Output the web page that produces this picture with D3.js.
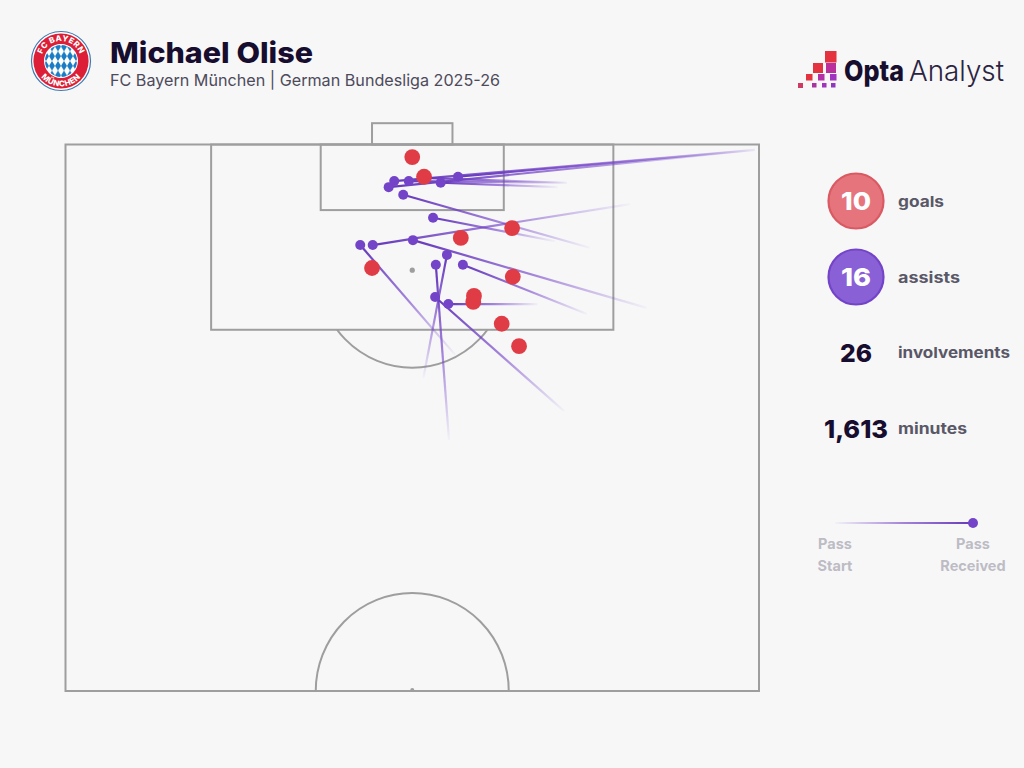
<!DOCTYPE html>
<html><head><meta charset="utf-8">
<script src="https://cdn.jsdelivr.net/npm/d3@7"></script>
<style>
html,body{margin:0;padding:0;background:#f7f7f8}
svg{display:block}
text{font-family:Inter,Roboto,sans-serif}
</style></head><body>
<svg id="c" width="1024" height="768"></svg>
<script>
// Pitch coordinates: x 0-100 across, y 0-100 from goal line to halfway line
const goalX = [50.0,51.7,64.4,57.0,44.2,64.5,58.9,58.8,62.9,65.4];
const goalY = [2.3,5.9,15.3,17.1,22.6,24.2,27.7,28.8,32.8,36.9];
const recvX = [56.6,47.4,46.6,49.5,54.1,51.7,48.7,53.0,44.3,42.5,50.1,55.0,53.4,57.3,53.3,55.2];
const recvY = [5.9,6.7,7.8,6.7,7.0,6.1,9.2,13.4,18.4,18.4,17.5,20.2,22.0,22.0,27.9,29.2];
const startX = [99.4,99.4,99.4,72.3,71.0,72.3,75.6,70.6,81.4,56.2,83.8,51.6,55.3,75.2,71.9,68.1];
const startY = [1.0,1.0,1.0,7.0,7.8,7.0,18.9,17.7,10.9,38.5,29.9,42.7,54.1,31.0,48.8,29.2];
const statValues = ["10","16","26","1,613"];
const statLabels = ["goals","assists","involvements","minutes"];
const legendEnds = ["Start","Received"];
const title = "Michael Olise";
const subtitle = "FC Bayern München | German Bundesliga 2025-26";

const W = 1024, H = 768;
const PURPLE = "#7444c8", RED = "#e03c46", LINE = "#9e9e9e";
const svg = d3.select("#c");
svg.append("rect").attr("width",W).attr("height",H).attr("fill","#f7f7f8");
const defs = svg.append("defs");

const x = d3.scaleLinear().domain([0,100]).range([65.5,759]);
const y = d3.scaleLinear().domain([0,100]).range([144.5,691]);

// ---- pitch
const pitch = svg.append("g").attr("fill","none").attr("stroke",LINE).attr("stroke-width",2);
const box = (x0,x1,y0,y1)=>pitch.append("rect").attr("x",x(x0)).attr("y",y(y0))
  .attr("width",x(x1)-x(x0)).attr("height",y(y1)-y(y0));
const spot = {x:50, y:23};
defs.append("clipPath").attr("id","dee").append("rect")
  .attr("x",0).attr("y",y(33.9)).attr("width",W).attr("height",100);
pitch.append("ellipse").attr("cx",x(spot.x)).attr("cy",y(spot.y)).attr("rx",95).attr("ry",97.5).attr("clip-path","url(#dee)");
box(0,100,0,100);
box(21.0,79.0,0,33.9);
box(36.8,63.2,0,12);
box(44.2,55.8,-3.9,0);
defs.append("clipPath").attr("id","half").append("rect")
  .attr("x",0).attr("y",0).attr("width",W).attr("height",y(100));
pitch.append("ellipse").attr("cx",x(50)).attr("cy",y(100)).attr("rx",96.5).attr("ry",98).attr("clip-path","url(#half)");
svg.append("circle").attr("cx",x(spot.x)).attr("cy",y(spot.y)).attr("r",2.6).attr("fill",LINE);
svg.append("circle").attr("cx",x(50)).attr("cy",y(100)-1).attr("r",2).attr("fill",LINE);

// ---- assists
const idx = d3.range(recvX.length);
function gradient(id,x1,y1,x2,y2){
  const g = defs.append("linearGradient").attr("id",id).attr("gradientUnits","userSpaceOnUse")
    .attr("x1",x1).attr("y1",y1).attr("x2",x2).attr("y2",y2);
  g.append("stop").attr("offset",0).attr("stop-color",PURPLE).attr("stop-opacity",0.03);
  g.append("stop").attr("offset",0.5).attr("stop-color",PURPLE).attr("stop-opacity",0.65);
  g.append("stop").attr("offset",1).attr("stop-color","#6538ba").attr("stop-opacity",1);
}
idx.forEach(i=>gradient("p"+i,x(startX[i]),y(startY[i]),x(recvX[i]),y(recvY[i])));
svg.append("g").selectAll("line").data(idx).join("line")
  .attr("x1",i=>x(startX[i])).attr("y1",i=>y(startY[i]))
  .attr("x2",i=>x(recvX[i])).attr("y2",i=>y(recvY[i])+(recvY[i]===startY[i]?0.01:0))
  .attr("stroke",i=>`url(#p${i})`).attr("stroke-width",2.2);
svg.append("g").selectAll("circle").data(idx).join("circle")
  .attr("cx",i=>x(recvX[i])).attr("cy",i=>y(recvY[i])).attr("r",5).attr("fill",PURPLE);
svg.append("g").selectAll("circle").data(d3.range(goalX.length)).join("circle")
  .attr("cx",i=>x(goalX[i])).attr("cy",i=>y(goalY[i])).attr("r",7.9).attr("fill",RED);

// ---- header
svg.append("text").attr("x",110).attr("y",63).attr("font-size",29).attr("font-weight",800)
  .attr("fill","#170d2e").attr("textLength",203).attr("lengthAdjust","spacingAndGlyphs").text(title);
svg.append("text").attr("x",110).attr("y",86).attr("font-size",16.5).attr("font-weight",400)
  .attr("fill","#4d4a5a").attr("textLength",390).attr("lengthAdjust","spacingAndGlyphs").text(subtitle);

// ---- crest
const crest = svg.append("g").attr("transform","translate(61,61)");
crest.append("circle").attr("r",29.5).attr("fill","#fff").attr("stroke","#3f78b0").attr("stroke-width",1.2);
crest.append("circle").attr("r",27.6).attr("fill","#dc1f36");
crest.append("circle").attr("r",17).attr("fill","#fff");
const dp = defs.append("pattern").attr("id","diam").attr("patternUnits","userSpaceOnUse")
  .attr("width",6).attr("height",9.6).attr("x",0).attr("y",0);
dp.append("path").attr("d","M3 0L6 4.8L3 9.6L0 4.8Z").attr("fill","#1a7cc4");
crest.append("circle").attr("r",16).attr("fill","url(#diam)");
defs.append("path").attr("id","arcTop").attr("d","M-18.8 6.8A20 20 0 1 1 18.8 6.8");
defs.append("path").attr("id","arcBot").attr("d","M-25.5 0A25.5 25.5 0 0 0 25.5 0");
const ct = (href,t)=>crest.append("text").attr("font-size",8).attr("font-weight",800).attr("fill","#fff")
  .attr("letter-spacing",0.4).attr("text-anchor","middle")
  .append("textPath").attr("href",href).attr("startOffset","50%").text(t);
ct("#arcTop","FC BAYERN"); ct("#arcBot","MÜNCHEN");

// ---- Opta logo
const squares = [[825,51,11.5,"#e4323f"],[813,63,10,"#e4323f"],[826,63,10,"#bb2f9c"],
  [806,74,6.5,"#e4323f"],[818,74,6.5,"#b530a8"],[830,74,6.5,"#a033c0"],
  [798,83,5,"#cf3a64"],[812,83,4.5,"#a8359f"],[822,83,4.5,"#a033c0"],[831,83,4.5,"#8e38c0"]];
svg.append("g").selectAll("rect").data(squares).join("rect")
  .attr("x",d=>d[0]).attr("y",d=>d[1]).attr("width",d=>d[2]).attr("height",d=>d[2]).attr("fill",d=>d[3]);
svg.append("text").attr("x",844).attr("y",81).attr("font-size",29).attr("font-weight",800)
  .attr("fill","#170d2e").attr("textLength",60).attr("lengthAdjust","spacingAndGlyphs").text("Opta");
svg.append("text").attr("x",909).attr("y",81).attr("font-size",29).attr("font-weight",300)
  .attr("fill","#2a2440").attr("textLength",95).attr("lengthAdjust","spacingAndGlyphs").text("Analyst");

// ---- stats
const statY = [201,277,352.5,428.5];
const statFill = ["#e5747c","#8a60d6",null,null];
const statStroke = ["#da5a63","#7444c8",null,null];
const statLen = [30,30,32,64];
const labelLen = [46,62,112,69];
statY.forEach((sy,i)=>{
  if(statFill[i]) svg.append("circle").attr("cx",856).attr("cy",sy).attr("r",27.5)
    .attr("fill",statFill[i]).attr("stroke",statStroke[i]).attr("stroke-width",2.2);
  svg.append("text").attr("x",856 - statLen[i]/2).attr("y",sy+9).attr("font-size",25).attr("font-weight",800)
    .attr("fill",statFill[i]?"#fff":"#170d2e").attr("textLength",statLen[i]).attr("lengthAdjust","spacingAndGlyphs")
    .text(statValues[i]);
  svg.append("text").attr("x",898).attr("y",sy+5.5).attr("font-size",15).attr("font-weight",700)
    .attr("fill","#5a5867").attr("textLength",labelLen[i]).attr("lengthAdjust","spacingAndGlyphs").text(statLabels[i]);
});

// ---- legend
gradient("lg",835,523,973,523.01);
svg.append("line").attr("x1",835).attr("y1",523).attr("x2",973).attr("y2",523.01)
  .attr("stroke","url(#lg)").attr("stroke-width",2);
svg.append("circle").attr("cx",973).attr("cy",523).attr("r",5).attr("fill",PURPLE);
[835,973].forEach((lx,i)=>{
  svg.append("text").attr("x",lx).attr("y",549).attr("text-anchor","middle").attr("font-size",14.5)
    .attr("font-weight",700).attr("fill","#bdbcc4").text("Pass");
  svg.append("text").attr("x",lx).attr("y",571).attr("text-anchor","middle").attr("font-size",14.5)
    .attr("font-weight",700).attr("fill","#bdbcc4").text(legendEnds[i]);
});
</script>
</body></html>
